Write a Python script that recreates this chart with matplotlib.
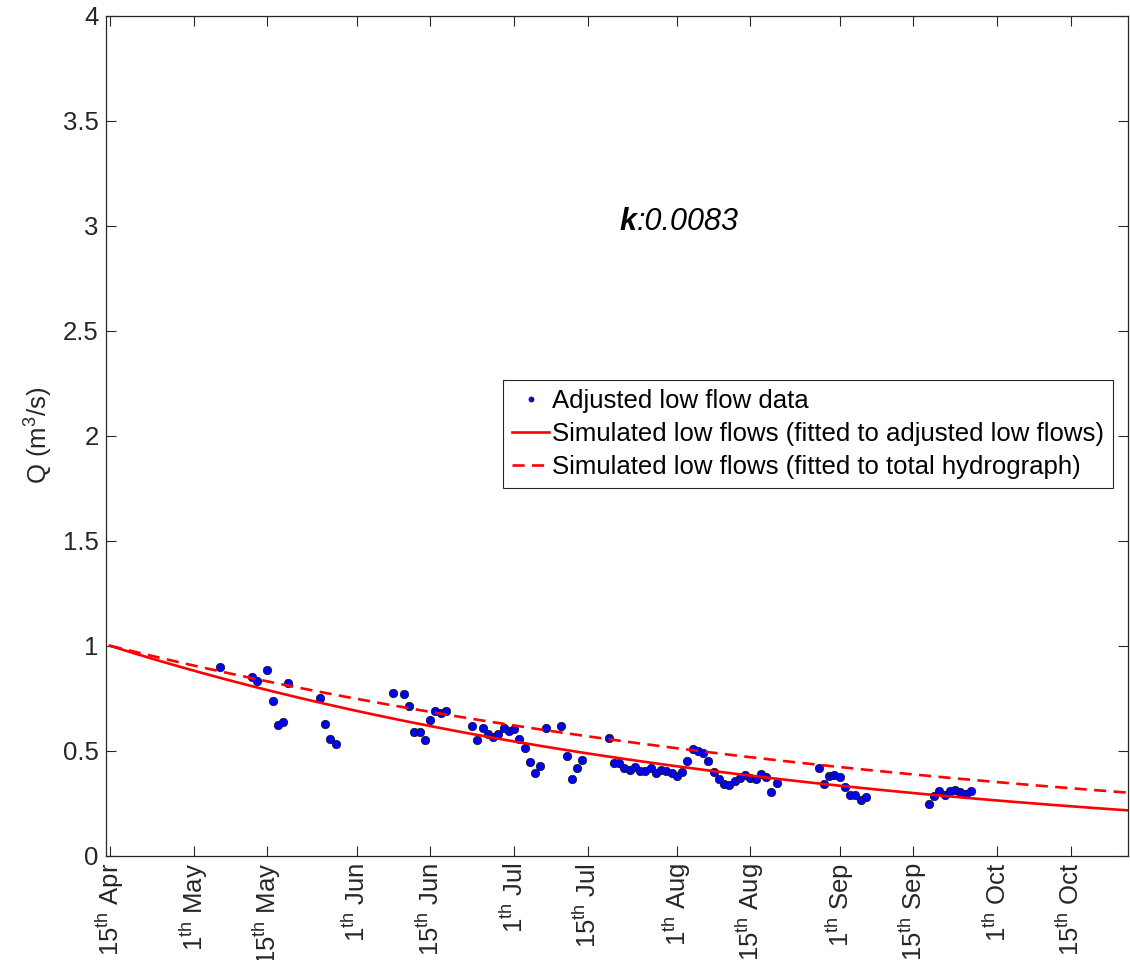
import numpy as np
import pandas as pd
import matplotlib
matplotlib.use("Agg")
import matplotlib.pyplot as plt

plt.rcParams['font.family'] = ['Liberation Sans', 'DejaVu Sans']
plt.rcParams['mathtext.fontset'] = 'custom'
plt.rcParams['mathtext.rm'] = 'Liberation Sans'
plt.rcParams['mathtext.it'] = 'Liberation Sans:italic'
plt.rcParams['mathtext.bf'] = 'Liberation Sans:bold'

# observed low flows: day offset from 15th April and discharge (m3/s)
obs_day = [21, 27, 28, 30, 31, 32, 33, 34, 40, 41, 42, 43,
           54, 56, 57, 58, 59, 60, 61, 62, 63, 64,
           69, 70, 71, 72, 73, 74, 75, 76, 77, 78, 79, 80, 81, 82, 83,
           86, 87, 88, 89, 90,
           95, 96, 97, 98, 99, 100, 101, 102, 103, 104, 105, 106, 107, 108, 109,
           110, 111, 112, 113, 114, 115, 116, 117, 118, 119, 120, 121, 122, 123,
           124, 125, 126, 127,
           135, 136, 137, 138, 139, 140, 141, 142, 143, 144,
           156, 157, 158, 159, 160, 161, 162, 163, 164]
obs_q = [0.90, 0.85, 0.83, 0.883, 0.738, 0.624, 0.635, 0.822, 0.752, 0.627, 0.554, 0.530,
         0.776, 0.769, 0.714, 0.589, 0.589, 0.549, 0.645, 0.688, 0.678, 0.688,
         0.618, 0.551, 0.607, 0.580, 0.567, 0.580, 0.608, 0.595, 0.605, 0.556, 0.514,
         0.445, 0.395, 0.429, 0.608,
         0.618, 0.475, 0.364, 0.416, 0.457,
         0.562, 0.440, 0.440, 0.419, 0.407, 0.421, 0.405, 0.402, 0.416, 0.392, 0.407,
         0.403, 0.392, 0.382, 0.397,
         0.449, 0.509, 0.500, 0.488, 0.451, 0.397, 0.365, 0.341, 0.338, 0.356, 0.371,
         0.383, 0.369, 0.365, 0.388, 0.376, 0.302, 0.345,
         0.420, 0.341, 0.381, 0.384, 0.376, 0.328, 0.289, 0.289, 0.264, 0.278,
         0.246, 0.284, 0.310, 0.288, 0.310, 0.313, 0.305, 0.292, 0.310]

# recession parameters
q0 = 1.0
k_adjusted = 0.0079
k_total = 0.0062
k_label = "0.0083"

start = pd.Timestamp("2015-04-15")
tick_dates = ["2015-04-15", "2015-05-01", "2015-05-15", "2015-06-01", "2015-06-15",
              "2015-07-01", "2015-07-15", "2015-08-01", "2015-08-15", "2015-09-01",
              "2015-09-15", "2015-10-01", "2015-10-15"]
tick_labels = [r"15$^{\rm th}$ Apr", r"1$^{\rm th}$ May", r"15$^{\rm th}$ May",
               r"1$^{\rm th}$ Jun", r"15$^{\rm th}$ Jun", r"1$^{\rm th}$ Jul",
               r"15$^{\rm th}$ Jul", r"1$^{\rm th}$ Aug", r"15$^{\rm th}$ Aug",
               r"1$^{\rm th}$ Sep", r"15$^{\rm th}$ Sep", r"1$^{\rm th}$ Oct",
               r"15$^{\rm th}$ Oct"]
tick_days = [(pd.Timestamp(d) - start).days for d in tick_dates]

fig = plt.figure(figsize=(11.3, 9.6), dpi=100)
ax = fig.add_axes([0.0935, 0.1086, 0.9045, 0.875])

t = np.linspace(0, 195, 400)
fs = 18.5
txt = '#262626'

ax.plot(obs_day, obs_q, 'o', color='#0000FF', markeredgecolor='#1a1a1a',
        markeredgewidth=0.6, markersize=6, label='Adjusted low flow data')
ax.plot(t, q0 * np.exp(-k_adjusted * t), '-', color='#FF0000', lw=1.9,
        label='Simulated low flows (fitted to adjusted low flows)')
ax.plot(t, q0 * np.exp(-k_total * t), '--', color='#FF0000', lw=1.9,
        dashes=(4.6, 2.8), label='Simulated low flows (fitted to total hydrograph)')

ax.set_xlim(-0.8, 193.9)
ax.set_ylim(0, 4)
ax.set_xticks(tick_days)
ax.set_xticklabels(tick_labels, rotation=90, fontsize=fs, color=txt)
ax.set_yticks(np.arange(0, 4.01, 0.5))
ax.set_yticklabels(["0", "0.5", "1", "1.5", "2", "2.5", "3", "3.5", "4"],
                   fontsize=fs, color=txt)
ax.tick_params(direction='in', length=7, width=0.8, top=True, right=True,
               colors=txt, labelcolor=txt, pad=5)
for s in ax.spines.values():
    s.set_color(txt)
    s.set_linewidth(0.9)

ax.set_ylabel(r"Q (m$^3$/s)", fontsize=fs, color=txt, labelpad=6)

ax.text(100.3, 3.02, "k", fontsize=22, fontweight='bold', style='italic',
        ha='right', va='center', color='black')
ax.text(100.3, 3.02, ":" + k_label, fontsize=22, style='italic',
        ha='left', va='center', color='black')

leg = ax.legend(loc='upper left', bbox_to_anchor=(0.3887, 0.5663), borderaxespad=0,
                fontsize=fs, fancybox=False, edgecolor='#262626', framealpha=1,
                handlelength=1.45, handletextpad=0.1, labelspacing=0.35,
                borderpad=0.35, markerscale=0.6)
leg.get_frame().set_linewidth(0.8)

fig.savefig("out.png", dpi=100)
